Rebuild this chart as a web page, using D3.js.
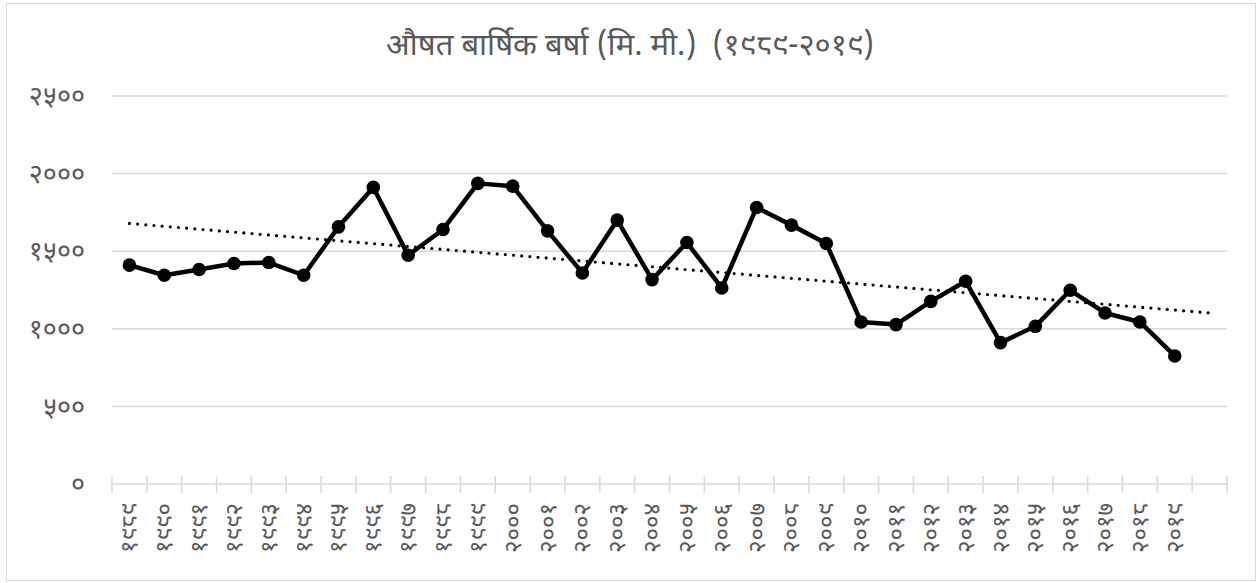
<!DOCTYPE html>
<html lang="ne">
<head>
    <meta charset="UTF-8">
    <script src="https://d3js.org/d3.v7.min.js"></script>
    <title>औषत बार्षिक बर्षा</title>
    <style>
        body { margin: 0; background: #fff; }
        text { font-family: "Noto Sans Devanagari", "Noto Sans", "DejaVu Sans", sans-serif; }
    </style>
</head>
<body>
<div id="viz"></div>
<script>
    // data (mm per year)
    const years = [1989, 1990, 1991, 1992, 1993, 1994, 1995, 1996, 1997, 1998,
        1999, 2000, 2001, 2002, 2003, 2004, 2005, 2006, 2007, 2008,
        2009, 2010, 2011, 2012, 2013, 2014, 2015, 2016, 2017, 2018, 2019];
    const rainfall = [1410, 1345, 1382, 1421, 1427, 1345, 1657, 1911, 1474, 1640,
        1937, 1919, 1631, 1360, 1700, 1317, 1556, 1263, 1782, 1668,
        1550, 1044, 1027, 1177, 1306, 911, 1016, 1248, 1102, 1044, 825];
    const yTicks = [0, 500, 1000, 1500, 2000, 2500];
    const title = "औषत बार्षिक बर्षा (मि. मी.)  (१९८९-२०१९)";

    const devDigits = "०१२३४५६७८९";
    const toDev = n => String(n).replace(/[0-9]/g, d => devDigits[+d]);

    const W = 1257, H = 583;
    const margin = {top: 96, right: 30, bottom: 99, left: 112};
    const width = W - margin.left - margin.right,
        height = H - margin.top - margin.bottom;

    const svg = d3.select("#viz")
        .append("svg")
        .attr("width", W)
        .attr("height", H);

    // chart frame
    svg.append("rect")
        .attr("x", 6.5).attr("y", 3.5)
        .attr("width", 1249).attr("height", 577)
        .attr("fill", "none")
        .attr("stroke", "#d9d9d9");

    svg.append("text")
        .attr("x", 630)
        .attr("y", 55)
        .attr("text-anchor", "middle")
        .style("font-size", "31px")
        .style("white-space", "pre")
        .style("fill", "#595959")
        .text(title);

    const g = svg.append("g")
        .attr("transform", `translate(${margin.left}, ${margin.top})`);

    // one blank category after the last year, like the original
    const x = d3.scaleBand()
        .domain(years.concat(["blank"]))
        .range([0, width]);

    const y = d3.scaleLinear()
        .domain([0, 2500])
        .range([height, 0]);

    // gridlines
    g.append("g")
        .selectAll("line")
        .data(yTicks.filter(d => d > 0))
        .join("line")
        .attr("x1", 0).attr("x2", width)
        .attr("y1", d => y(d)).attr("y2", d => y(d))
        .attr("stroke", "#d9d9d9")
        .attr("stroke-width", 1.5);

    // y labels
    g.append("g")
        .call(d3.axisLeft(y).tickValues(yTicks).tickSize(0).tickPadding(27).tickFormat(toDev))
        .call(a => a.select(".domain").remove())
        .selectAll("text")
        .style("font-size", "27px")
        .style("fill", "#595959");

    // x axis with cross ticks
    const xAxis = g.append("g")
        .attr("transform", `translate(0, ${height})`);
    xAxis.append("line")
        .attr("x1", 0).attr("x2", width)
        .attr("stroke", "#d9d9d9").attr("stroke-width", 1.5);
    const bounds = x.domain().map(d => x(d)).concat([width]);
    xAxis.selectAll(".tk")
        .data(bounds)
        .join("line")
        .attr("class", "tk")
        .attr("x1", d => d).attr("x2", d => d)
        .attr("y1", -8).attr("y2", 9)
        .attr("stroke", "#d9d9d9").attr("stroke-width", 1.5);
    xAxis.selectAll(".lbl")
        .data(years)
        .join("text")
        .attr("class", "lbl")
        .attr("transform", d => `translate(${x(d) + x.bandwidth() / 2 + 8}, 19) rotate(-90)`)
        .attr("text-anchor", "end")
        .style("font-size", "24px")
        .style("fill", "#595959")
        .text(d => toDev(d));

    const cx = d => x(d) + x.bandwidth() / 2;

    // linear trendline, one period forward
    const n = years.length;
    const xs = d3.range(1, n + 1);
    const mx = d3.mean(xs), my = d3.mean(rainfall);
    const slope = d3.sum(xs, (v, i) => (v - mx) * (rainfall[i] - my)) / d3.sum(xs, v => (v - mx) ** 2);
    const icpt = my - slope * mx;
    const step = x.step();
    g.append("line")
        .attr("x1", cx(years[0]))
        .attr("y1", y(icpt + slope * 1))
        .attr("x2", cx(years[n - 1]) + step)
        .attr("y2", y(icpt + slope * (n + 1)))
        .attr("stroke", "#000")
        .attr("stroke-width", 3.2)
        .attr("stroke-linecap", "round")
        .attr("stroke-dasharray", "0 8.2");

    // series line
    const line = d3.line()
        .x((d, i) => cx(years[i]))
        .y(d => y(d));
    g.append("path")
        .datum(rainfall)
        .attr("d", line)
        .attr("fill", "none")
        .attr("stroke", "#000")
        .attr("stroke-width", 4.5)
        .attr("stroke-linejoin", "round");

    g.selectAll(".dot")
        .data(rainfall)
        .join("circle")
        .attr("class", "dot")
        .attr("cx", (d, i) => cx(years[i]))
        .attr("cy", d => y(d))
        .attr("r", 6.8)
        .attr("fill", "#000");
</script>
</body>
</html>
